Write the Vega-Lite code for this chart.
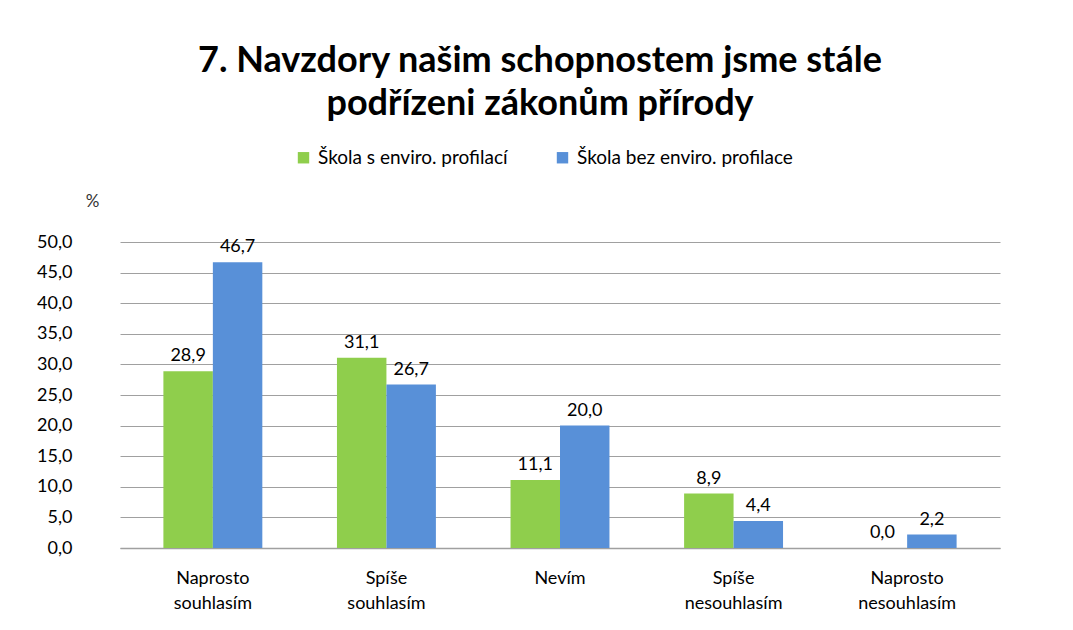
{
  "$schema": "https://vega.github.io/schema/vega-lite/v6.json",
  "autosize": {"type": "none"},
  "width": 880,
  "height": 306,
  "padding": {"left": 120, "top": 242, "right": 73, "bottom": 82},
  "background": "white",
  "title": {
    "text": ["7. Navzdory našim schopnostem jsme stále", "podřízeni zákonům přírody"],
    "font": "Lato",
    "fontSize": 36,
    "fontWeight": "bold",
    "color": "black",
    "anchor": "middle",
    "dx": -20,
    "lineHeight": 43,
    "offset": 25
  },
  "config": {
    "locale": {"number": {"decimal": ",", "thousands": " ", "grouping": [3], "currency": ["", ""]}},
    "view": {"stroke": null},
    "font": "Lato"
  },
  "data": {
    "values": [
      {"kat": "Naprosto souhlasím", "skupina": "Škola s enviro. profilací", "hodnota": 28.9},
      {"kat": "Naprosto souhlasím", "skupina": "Škola bez enviro. profilace", "hodnota": 46.7},
      {"kat": "Spíše souhlasím", "skupina": "Škola s enviro. profilací", "hodnota": 31.1},
      {"kat": "Spíše souhlasím", "skupina": "Škola bez enviro. profilace", "hodnota": 26.7},
      {"kat": "Nevím", "skupina": "Škola s enviro. profilací", "hodnota": 11.1},
      {"kat": "Nevím", "skupina": "Škola bez enviro. profilace", "hodnota": 20.0},
      {"kat": "Spíše nesouhlasím", "skupina": "Škola s enviro. profilací", "hodnota": 8.9},
      {"kat": "Spíše nesouhlasím", "skupina": "Škola bez enviro. profilace", "hodnota": 4.4},
      {"kat": "Naprosto nesouhlasím", "skupina": "Škola s enviro. profilací", "hodnota": 0.0},
      {"kat": "Naprosto nesouhlasím", "skupina": "Škola bez enviro. profilace", "hodnota": 2.2}
    ]
  },
  "encoding": {
    "x": {
      "field": "kat",
      "type": "nominal",
      "sort": null,
      "scale": {"paddingInner": 0.43, "paddingOuter": 0.25},
      "axis": {
        "title": null,
        "labelAngle": 0,
        "labelExpr": "split(datum.label, ' ')",
        "labelFontSize": 18,
        "labelColor": "black",
        "labelPadding": 21,
        "labelLineHeight": 25,
        "ticks": false,
        "domainColor": "#a0a0a0",
        "domainWidth": 1.5
      }
    },
    "xOffset": {"field": "skupina", "type": "nominal", "sort": ["Škola s enviro. profilací", "Škola bez enviro. profilace"]},
    "y": {
      "field": "hodnota",
      "type": "quantitative",
      "scale": {"domain": [0, 50]},
      "axis": {
        "title": "%",
        "titleAngle": 0,
        "titleX": -28,
        "titleY": -32,
        "titleFontSize": 17,
        "titleFontWeight": "normal",
        "titleColor": "#333",
        "values": [0, 5, 10, 15, 20, 25, 30, 35, 40, 45, 50],
        "labelOverlap": false,
        "format": ".1f",
        "labelFontSize": 18,
        "labelColor": "black",
        "labelPadding": 48,
        "ticks": false,
        "domain": false,
        "gridColor": "#a0a0a0",
        "gridWidth": 1
      }
    }
  },
  "layer": [
    {
      "mark": {"type": "bar"},
      "encoding": {
        "color": {
          "field": "skupina",
          "type": "nominal",
          "sort": ["Škola s enviro. profilací", "Škola bez enviro. profilace"],
          "scale": {"domain": ["Škola s enviro. profilací", "Škola bez enviro. profilace"], "range": ["#8fce4c", "#5890d8"]},
          "legend": {
            "title": null,
            "orient": "none",
            "legendX": 174,
            "legendY": -94,
            "direction": "horizontal",
            "symbolType": "square",
            "symbolSize": 130,
            "symbolStrokeWidth": 0,
            "labelFontSize": 19,
            "labelLimit": 400,
            "labelColor": "black",
            "columnPadding": 45,
            "labelOffset": 5
          }
        }
      }
    },
    {
      "mark": {"type": "text", "baseline": "bottom", "dy": -6, "fontSize": 18, "color": "black"},
      "encoding": {
        "text": {"field": "hodnota", "type": "quantitative", "format": ".1f"}
      }
    }
  ]
}
